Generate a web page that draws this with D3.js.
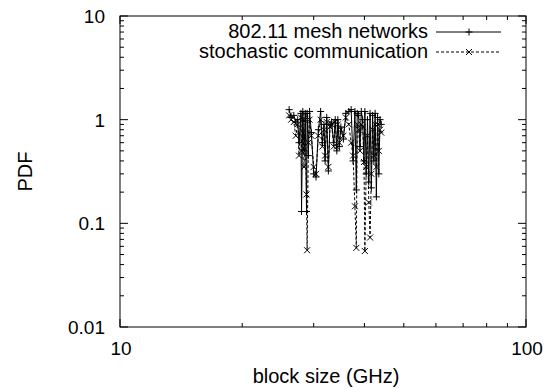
<!DOCTYPE html>
<html>
<head>
<meta charset="utf-8">
<script src="https://cdn.jsdelivr.net/npm/d3@7"></script>
<style>
  body { margin: 0; background: #fff; }
  text { font-family: "Liberation Sans", Arial, sans-serif; fill: #000; }
</style>
</head>
<body>
<div id="chart"></div>
<script>
// block size values (GHz), shared by both series
const xs = [26.1, 26.4, 26.8, 27.1, 27.4, 27.6, 27.9, 28.0, 28.2, 28.4,
            28.6, 28.8, 28.9, 29.1, 29.3, 29.6, 30.0, 30.4, 30.8, 31.2,
            31.5, 31.8, 32.0, 32.3, 32.6, 32.9, 33.2, 33.6, 33.9, 34.2,
            34.4, 34.7, 35.0, 35.5, 36.0, 36.6, 37.1, 37.5, 37.9, 38.2,
            38.4, 38.7, 39.0, 39.3, 39.6, 39.9, 40.1, 40.4, 40.7, 41.0,
            41.3, 41.6, 41.9, 42.2, 42.5, 42.8, 43.1, 43.4, 43.7, 44.0];

// 802.11 mesh networks
const meshPdf = [1.25, 1.05, 1.1, 0.95, 1.0, 0.6, 1.15, 0.13, 1.2, 0.5,
                 1.15, 0.13, 1.15, 0.45, 1.2, 0.75, 0.3, 0.28, 0.8, 1.2,
                 0.6, 0.9, 0.4, 1.05, 0.32, 0.9, 0.95, 0.6, 1.0, 0.5,
                 1.0, 0.55, 0.85, 0.65, 1.15, 1.2, 1.25, 0.4, 1.2, 0.21,
                 1.15, 1.1, 0.55, 1.2, 1.0, 0.4, 1.2, 0.3, 1.0, 0.25,
                 1.15, 0.22, 1.1, 0.4, 1.15, 0.18, 1.05, 0.3, 1.0, 0.9];

// stochastic communication
const stochPdf = [1.1, 1.0, 0.95, 0.7, 0.9, 0.45, 1.05, 0.5, 1.0, 0.35,
                  1.0, 0.19, 0.055, 0.6, 1.0, 0.7, 0.35, 0.3, 0.7, 1.0,
                  0.55, 0.8, 0.45, 0.95, 0.35, 0.85, 0.9, 0.55, 0.95, 0.55,
                  0.9, 0.6, 0.8, 0.7, 1.05, 0.9, 0.6, 0.45, 0.146, 0.058,
                  0.9, 0.8, 0.5, 0.9, 0.85, 0.39, 0.054, 0.35, 0.7, 0.159,
                  0.073, 0.3, 0.8, 0.45, 0.9, 0.35, 0.9, 0.5, 0.8, 0.75];

const xTicks = [10, 100];
const yTicks = [0.01, 0.1, 1, 10];

const series = [
    { label: "802.11 mesh networks", values: meshPdf, dash: null, marker: "plus" },
    { label: "stochastic communication", values: stochPdf, dash: "3,2", marker: "cross" }
];

const width = 553, height = 389;
const margin = { top: 16, right: 27, bottom: 62, left: 120 };
const w = width - margin.left - margin.right;
const h = height - margin.top - margin.bottom;

const svg = d3.select("#chart").append("svg")
    .attr("width", width)
    .attr("height", height);

const g = svg.append("g")
    .attr("transform", `translate(${margin.left},${margin.top})`);

const x = d3.scaleLog().domain([10, 100]).range([0, w]);
const y = d3.scaleLog().domain([0.01, 10]).range([h, 0]);

// minor ticks (2..9 of each decade)
function minors(lo, hi) {
    const out = [];
    for (let d = lo; d < hi; d *= 10)
        for (let k = 2; k <= 9; k++) out.push(d * k);
    return out;
}

const tickG = g.append("g").attr("stroke", "#000").attr("stroke-width", 1);
xTicks.forEach(v => {
    tickG.append("line").attr("x1", x(v)).attr("x2", x(v)).attr("y1", h).attr("y2", h - 8);
    tickG.append("line").attr("x1", x(v)).attr("x2", x(v)).attr("y1", 0).attr("y2", 8);
});
minors(10, 100).forEach(v => {
    tickG.append("line").attr("x1", x(v)).attr("x2", x(v)).attr("y1", h).attr("y2", h - 4);
    tickG.append("line").attr("x1", x(v)).attr("x2", x(v)).attr("y1", 0).attr("y2", 4);
});
yTicks.forEach(v => {
    tickG.append("line").attr("x1", 0).attr("x2", 8).attr("y1", y(v)).attr("y2", y(v));
    tickG.append("line").attr("x1", w).attr("x2", w - 8).attr("y1", y(v)).attr("y2", y(v));
});
minors(0.01, 10).forEach(v => {
    tickG.append("line").attr("x1", 0).attr("x2", 4).attr("y1", y(v)).attr("y2", y(v));
    tickG.append("line").attr("x1", w).attr("x2", w - 4).attr("y1", y(v)).attr("y2", y(v));
});

g.append("rect")
    .attr("width", w).attr("height", h)
    .attr("fill", "none").attr("stroke", "#000").attr("stroke-width", 1);

// tick labels
g.selectAll(".xlab").data(xTicks).enter().append("text")
    .attr("x", d => x(d) + 1).attr("y", h + 28)
    .attr("text-anchor", "middle").attr("font-size", 19)
    .text(d => d);

g.selectAll(".ylab").data(yTicks).enter().append("text")
    .attr("x", -15).attr("y", d => y(d) + 7)
    .attr("text-anchor", "end").attr("font-size", 19)
    .text(d => d);

// axis titles
g.append("text")
    .attr("x", w / 2 + 3).attr("y", h + 56)
    .attr("text-anchor", "middle").attr("font-size", 20)
    .text("block size (GHz)");

g.append("text")
    .attr("transform", `translate(${-88},${h / 2}) rotate(-90)`)
    .attr("text-anchor", "middle").attr("font-size", 20)
    .text("PDF");

function drawMarker(sel, type, cx, cy) {
    const s = type === "plus" ? 3.5 : 3;
    if (type === "plus") {
        sel.append("path").attr("d", `M${cx - s},${cy}H${cx + s}M${cx},${cy - s}V${cy + s}`);
    } else {
        sel.append("path").attr("d", `M${cx - s},${cy - s}L${cx + s},${cy + s}M${cx - s},${cy + s}L${cx + s},${cy - s}`);
    }
}

const line = d3.line().x(d => x(d[0])).y(d => y(d[1]));

// draw stochastic first so mesh lies on top
[series[1], series[0]].forEach(s => {
    const pts = xs.map((v, i) => [v, s.values[i]]);
    g.append("path")
        .datum(pts)
        .attr("fill", "none")
        .attr("stroke", "#000")
        .attr("stroke-width", 1)
        .attr("stroke-dasharray", s.dash)
        .attr("d", line);
    const mg = g.append("g").attr("stroke", "#000").attr("stroke-width", 1).attr("fill", "none");
    pts.forEach(p => drawMarker(mg, s.marker, x(p[0]), y(p[1])));
});

// legend
const leg = svg.append("g");
series.forEach((s, i) => {
    const ly = 32 + i * 20;
    leg.append("text")
        .attr("x", 428).attr("y", ly + 6)
        .attr("text-anchor", "end").attr("font-size", 20)
        .text(s.label);
    leg.append("line")
        .attr("x1", 436).attr("x2", 501).attr("y1", ly).attr("y2", ly)
        .attr("stroke", "#000").attr("stroke-width", 1)
        .attr("stroke-dasharray", s.dash);
    const mg = leg.append("g").attr("stroke", "#000").attr("fill", "none");
    drawMarker(mg, s.marker, 469, ly);
});
</script>
</body>
</html>
